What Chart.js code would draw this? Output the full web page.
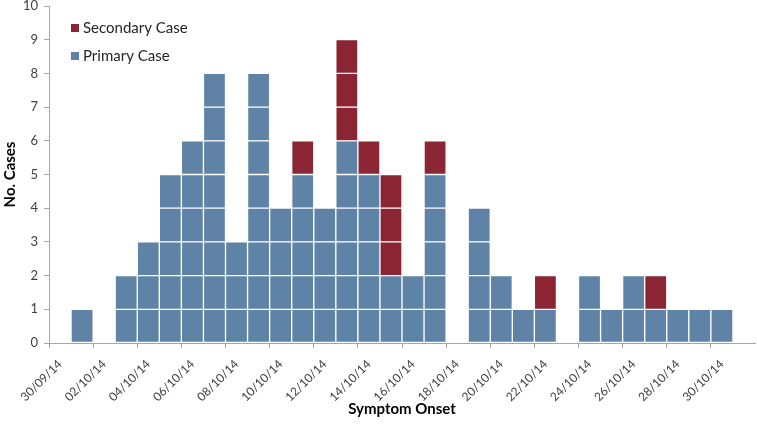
<!DOCTYPE html>
<html>
<head>
<meta charset="utf-8">
<script src="https://cdn.jsdelivr.net/npm/chart.js@4"></script>
<style>
  html, body { margin: 0; padding: 0; background: #fff; }
  #wrap { width: 757px; height: 428px; }
</style>
</head>
<body>
<div id="wrap"><canvas id="chart"></canvas></div>
<script>
var dates = ['30/09/14', '01/10/14', '02/10/14', '03/10/14', '04/10/14', '05/10/14', '06/10/14', '07/10/14',
  '08/10/14', '09/10/14', '10/10/14', '11/10/14', '12/10/14', '13/10/14', '14/10/14', '15/10/14',
  '16/10/14', '17/10/14', '18/10/14', '19/10/14', '20/10/14', '21/10/14', '22/10/14', '23/10/14',
  '24/10/14', '25/10/14', '26/10/14', '27/10/14', '28/10/14', '29/10/14', '30/10/14', '31/10/14'];
var primary = [0, 1, 0, 2, 3, 5, 6, 8, 3, 8, 4, 5, 4, 6, 5, 2, 2, 5, 0, 4, 2, 1, 1, 0, 2, 1, 2, 1, 1, 1, 1, 0];
var secondary = [0, 0, 0, 0, 0, 0, 0, 0, 0, 0, 0, 1, 0, 3, 1, 3, 0, 1, 0, 0, 0, 0, 1, 0, 0, 0, 0, 1, 0, 0, 0, 0];
var yTicks = [0, 1, 2, 3, 4, 5, 6, 7, 8, 9, 10];

var blue = '#5f83a6';
var red = '#8b2433';
var axisGray = '#a6a6a6';
var textCol = '#404040';
var font = 'Lato';

// one dataset per "layer" of cases so each case is its own box
var datasets = [];
function addLayers(values, color, name) {
  var max = Math.max.apply(null, values);
  for (var k = 1; k <= max; k++) {
    datasets.push({
      label: name,
      data: values.map(function (v) { return v >= k ? 1 : null; }),
      backgroundColor: color,
      borderColor: '#ffffff',
      borderWidth: 1,
      borderSkipped: false,
      barPercentage: 1,
      categoryPercentage: 1
    });
  }
}
addLayers(primary, blue, 'Primary Case');
addLayers(secondary, red, 'Secondary Case');

var legendItems = [
  { text: 'Secondary Case', color: red },
  { text: 'Primary Case', color: blue }
];

var boxLegend = {
  id: 'boxLegend',
  afterDraw: function (chart) {
    var c = chart.ctx, a = chart.chartArea;
    c.save();
    c.font = '15px ' + font;
    c.textBaseline = 'middle';
    legendItems.forEach(function (it, i) {
      var y = a.top + 22 + i * 28;
      c.fillStyle = it.color;
      c.fillRect(a.left + 22, y - 4, 8, 8);
      c.fillStyle = '#262626';
      c.fillText(it.text, a.left + 34, y);
    });
    c.restore();
  }
};

new Chart(document.getElementById('chart'), {
  type: 'bar',
  data: { labels: dates, datasets: datasets },
  options: {
    responsive: true,
    maintainAspectRatio: false,
    animation: false,
    layout: { padding: { top: 6, right: 2, left: 0, bottom: 0 } },
    plugins: { legend: { display: false }, tooltip: { enabled: false } },
    scales: {
      x: {
        stacked: true,
        grid: {
          drawOnChartArea: false,
          offset: true,
          tickLength: 5,
          tickColor: function (ctx) { return ctx.index % 2 === 0 ? axisGray : 'rgba(0,0,0,0)'; }
        },
        border: { color: axisGray },
        ticks: {
          autoSkip: false,
          minRotation: 45,
          maxRotation: 45,
          padding: 9,
          color: textCol,
          font: { family: font, size: 12 },
          callback: function (v, i) { return i % 2 === 0 ? dates[i] : ''; }
        },
        title: {
          display: true,
          text: 'Symptom Onset',
          color: '#000',
          font: { family: font, size: 15, weight: 'bold' },
          padding: { top: 0, bottom: 10 }
        },
        afterFit: function (s) { s.height = 85; s.paddingLeft = 0; s.paddingRight = 0; }
      },
      y: {
        stacked: true,
        min: 0,
        max: 10,
        afterBuildTicks: function (s) { s.ticks = yTicks.map(function (v) { return { value: v }; }); },
        grid: { drawOnChartArea: false, tickLength: 5, color: axisGray },
        border: { color: axisGray },
        ticks: { color: textCol, font: { family: font, size: 13 }, padding: 6 },
        title: {
          display: true,
          text: 'No. Cases',
          color: '#000',
          font: { family: font, size: 15, weight: 'bold' },
          padding: { top: 1, bottom: 0 }
        },
        afterFit: function (s) { s.width = 49; s.paddingTop = 0; s.paddingBottom = 0; }
      }
    }
  },
  plugins: [boxLegend]
});
</script>
</body>
</html>
